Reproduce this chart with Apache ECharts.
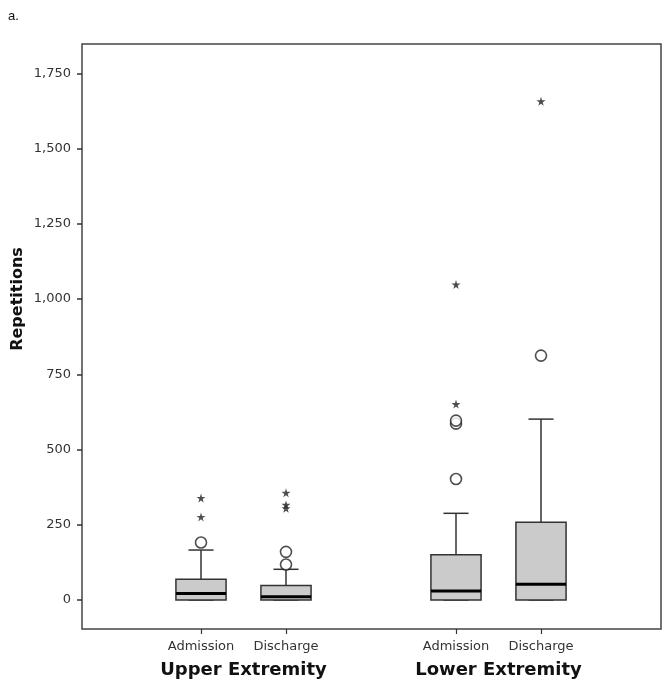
<!DOCTYPE html>
<html>
<head>
<meta charset="utf-8">
<script src="https://cdn.jsdelivr.net/npm/echarts@6/dist/echarts.min.js"></script>
<style>
html,body{margin:0;padding:0;background:#fff;}
#chart{width:670px;height:687px;}
</style>
</head>
<body>
<div id="chart"></div>
<script>
// ---- data ----
const categories = ['Admission', 'Discharge', '', 'Admission', 'Discharge'];
const groupLabels = ['Upper Extremity', 'Lower Extremity'];
const groupSlots = [2, 8]; // positions on an 11-step half-slot axis
// [min, Q1, median, Q3, max (whisker)]
const boxUEAdmission = [0, 0, 22, 69, 166];
const boxUEDischarge = [0, 0, 11, 48, 102];
const boxLEAdmission = [0, 0, 30, 150, 288];
const boxLEDischarge = [0, 0, 52, 258, 601];
const boxStats = [boxUEAdmission, boxUEDischarge, null, boxLEAdmission, boxLEDischarge];
// outliers (circles) and extreme values (stars)
const circleOutliers = [[191], [160, 118], [], [402, 586, 596], [812]];
const starOutliers = [[276, 339], [305, 316, 356], [], [651, 1048], [1657]];
const yTicks = [0, 250, 500, 750, 1000, 1250, 1500, 1750];

// ---- build series data ----
const boxData = [];
boxStats.forEach((s, i) => { if (s) boxData.push([i].concat(s)); });
const circleData = [];
circleOutliers.forEach((arr, i) => arr.forEach(v => circleData.push([i, v])));
const starData = [];
starOutliers.forEach((arr, i) => arr.forEach(v => starData.push([i, v])));
const groupAxisData = new Array(11).fill('');
groupSlots.forEach((p, k) => { groupAxisData[p] = groupLabels[k]; });

const STAR = 'path://M50,0 L61,35 L98,35 L68,57 L79,91 L50,70 L21,91 L32,57 L2,35 L39,35 Z';
const LINE = '#333';
const FONT = '"DejaVu Sans", sans-serif';

const chart = echarts.init(document.getElementById('chart'), null, {renderer: 'canvas'});
const option = {
  backgroundColor: '#fff',
  animation: false,
  graphic: [
    {type: 'text', left: 8, top: 10, style: {text: 'a.', font: '13px "Liberation Sans", Arial, sans-serif', fill: '#111'}},
    {type: 'text', x: 18, y: 299, rotation: Math.PI / 2,
     style: {text: 'Repetitions', font: 'bold 16px "DejaVu Sans", sans-serif', fill: '#111', align: 'center', verticalAlign: 'middle'}}
  ],
  grid: [
    {left: 82, top: 44, width: 579, height: 585, show: true, borderColor: '#444', borderWidth: 1.5, backgroundColor: 'transparent'},
    {left: 158.5, top: 73.3, width: 425, height: 526.7},
    {left: 158.5, top: 44, width: 425, height: 585}
  ],
  xAxis: [
    {gridIndex: 0, type: 'value', show: false, min: 0, max: 1},
    {gridIndex: 1, type: 'category', data: categories, boundaryGap: true, show: false},
    {gridIndex: 2, type: 'category', data: categories, boundaryGap: true, position: 'bottom',
     axisLine: {show: false},
     axisTick: {show: true, alignWithLabel: true, length: 5, interval: (i, v) => v !== '', lineStyle: {color: LINE, width: 1.2}},
     axisLabel: {interval: 0, margin: 11, fontSize: 13, color: '#333', fontFamily: FONT}},
    {gridIndex: 2, type: 'category', data: groupAxisData, boundaryGap: false, position: 'bottom',
     axisLine: {show: false}, axisTick: {show: false},
     axisLabel: {interval: 0, margin: 32, fontSize: 18, fontWeight: 'bold', color: '#111', fontFamily: FONT}}
  ],
  yAxis: [
    {gridIndex: 0, type: 'value', show: false, min: 0, max: 1},
    {gridIndex: 1, type: 'value', min: yTicks[0], max: yTicks[yTicks.length - 1], interval: 250, position: 'left', offset: 76.5,
     axisLine: {show: false}, splitLine: {show: false},
     axisTick: {show: true, length: 5, lineStyle: {color: LINE, width: 1.5}},
     axisLabel: {margin: 11, fontSize: 13, color: '#333', fontFamily: FONT,
       formatter: v => Number(v).toLocaleString('en-US')}},
    {gridIndex: 2, type: 'value', show: false, min: 0, max: 1}
  ],
  series: [
    {
      type: 'custom', xAxisIndex: 1, yAxisIndex: 1, data: boxData,
      renderItem: function (params, api) {
        const x = api.value(0);
        const mn = api.value(1), q1 = api.value(2), md = api.value(3), q3 = api.value(4), mx = api.value(5);
        const slot = api.size([1, 0])[0];
        const bw = slot * 0.59, cw = bw / 2;
        const pMin = api.coord([x, mn]), pQ1 = api.coord([x, q1]), pMd = api.coord([x, md]);
        const pQ3 = api.coord([x, q3]), pMax = api.coord([x, mx]);
        const cx = pMd[0];
        const ls = {stroke: LINE, lineWidth: 1.5};
        return {
          type: 'group',
          children: [
            {type: 'line', shape: {x1: cx, y1: pQ3[1], x2: cx, y2: pMax[1]}, style: ls},
            {type: 'line', shape: {x1: cx - cw / 2, y1: pMax[1], x2: cx + cw / 2, y2: pMax[1]}, style: ls},
            {type: 'line', shape: {x1: cx, y1: pQ1[1], x2: cx, y2: pMin[1]}, style: ls},
            {type: 'line', shape: {x1: cx - cw / 2, y1: pMin[1], x2: cx + cw / 2, y2: pMin[1]}, style: ls},
            {type: 'rect', shape: {x: cx - bw / 2, y: pQ3[1], width: bw, height: pQ1[1] - pQ3[1]},
             style: {fill: '#cbcbcb', stroke: LINE, lineWidth: 1.5}},
            {type: 'line', shape: {x1: cx - bw / 2, y1: pMd[1], x2: cx + bw / 2, y2: pMd[1]}, style: {stroke: '#000', lineWidth: 3}}
          ]
        };
      }
    },
    {
      type: 'scatter', xAxisIndex: 1, yAxisIndex: 1, data: circleData,
      symbol: 'circle', symbolSize: 11,
      itemStyle: {color: '#fff', borderColor: '#222', borderWidth: 1.6}
    },
    {
      type: 'scatter', xAxisIndex: 1, yAxisIndex: 1, data: starData,
      symbol: STAR, symbolSize: 9,
      itemStyle: {color: '#222'}
    }
  ]
};
chart.setOption(option);
</script>
</body>
</html>
